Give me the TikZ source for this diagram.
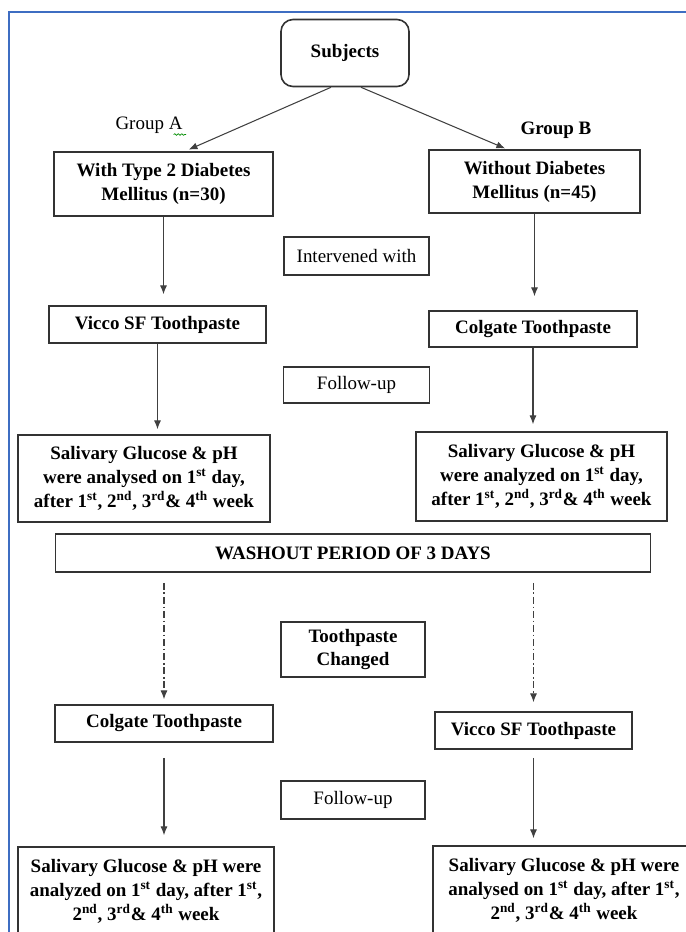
\documentclass[tikz,border=0pt]{standalone}
\usepackage{fontspec}
\setmainfont{Liberation Serif}
\usepackage{xcolor}
\usepackage{tikz}
\usetikzlibrary{arrows.meta,decorations.pathmorphing}
\definecolor{frameblue}{HTML}{3E6DC2}

\begin{document}
\begin{tikzpicture}[
    box/.style={draw=black!80, rectangle, line width=0.9pt, inner xsep=2pt, inner ysep=2pt, align=flush center, font=\fontsize{10.8}{13.6}\selectfont\bfseries},
    plainbox/.style={box, font=\fontsize{10.8}{13.6}\selectfont},
    conn/.style={draw=black!75, line width=0.6pt, -{Latex[length=5pt,width=4pt]}, shorten >=0.14cm},
    dashconn/.style={conn, dash pattern=on 4pt off 1.5pt on 1pt off 1.5pt}
]
                \useasboundingbox (0,0) rectangle (13.72,-18.64);
                \clip (0,0) rectangle (13.72,-18.64);
                \draw[frameblue, line width=1pt] (0.18,-0.24) rectangle (14.2,-19.2);
                \node[box, rounded corners=0.24cm, text width=2.42cm, minimum height=1.34cm] (sub) at (6.90,-1.06) {Subjects};
                \node[box, text width=4.24cm, minimum height=1.28cm, below of=sub, xshift=-3.63cm, yshift=-1.62cm] (a1) {With Type 2 Diabetes\\ Mellitus (n=30)};
                \node[box, text width=4.08cm, minimum height=1.26cm, right of=a1, xshift=6.42cm, yshift=0.05cm] (b1) {Without Diabetes\\ Mellitus (n=45)};
                \node[font=\fontsize{10.8}{13.6}\selectfont, above of=a1, xshift=-0.29cm, yshift=0.18cm] (gA) {Group A};
                \node[font=\fontsize{10.8}{13.6}\selectfont\bfseries, above of=b1, xshift=0.43cm, yshift=0.03cm] (gB) {Group B};
                \node[plainbox, text width=2.76cm, minimum height=0.76cm, below of=sub, xshift=0.23cm, yshift=-3.06cm] (iw) {Intervened with};
                \node[box, text width=4.20cm, minimum height=0.74cm, below of=a1, xshift=-0.12cm, yshift=-1.81cm] (a2) {Vicco SF Toothpaste};
                \node[box, text width=4.02cm, minimum height=0.72cm, below of=b1, xshift=-0.03cm, yshift=-1.95cm] (b2) {Colgate Toothpaste};
                \node[plainbox, text width=2.78cm, minimum height=0.72cm, below of=iw, yshift=-1.58cm] (fu1) {Follow-up};
                \node[box, text width=4.90cm, minimum height=1.74cm, below of=a2, xshift=-0.27cm, yshift=-2.08cm] (a3) {Salivary Glucose \& pH\\ were analysed on 1\textsuperscript{st} day,\\ after 1\textsuperscript{st}, 2\textsuperscript{nd}, 3\textsuperscript{rd}\& 4\textsuperscript{th} week};
                \node[box, text width=4.88cm, minimum height=1.78cm, below of=b2, xshift=0.17cm, yshift=-1.95cm] (b3) {Salivary Glucose \& pH\\ were analyzed on 1\textsuperscript{st} day,\\ after 1\textsuperscript{st}, 2\textsuperscript{nd}, 3\textsuperscript{rd}\& 4\textsuperscript{th} week};
                \node[box, text width=11.76cm, minimum height=0.76cm, below of=fu1, xshift=-0.07cm, yshift=-2.36cm] (wo) {WASHOUT PERIOD OF 3 DAYS};
                \node[box, text width=2.74cm, minimum height=1.10cm, below of=wo, yshift=-0.93cm] (tc) {Toothpaste\\ Changed};
                \node[box, text width=4.22cm, minimum height=0.74cm, below of=a3, xshift=0.40cm, yshift=-3.90cm] (a4) {Colgate Toothpaste};
                \node[box, text width=3.80cm, minimum height=0.74cm, below of=b3, xshift=-0.16cm, yshift=-4.08cm] (b4) {Vicco SF Toothpaste};
                \node[plainbox, text width=2.74cm, minimum height=0.76cm, below of=tc, yshift=-2.01cm] (fu2) {Follow-up};
                \node[box, text width=4.98cm, minimum height=1.76cm, below of=a4, xshift=-0.36cm, yshift=-2.35cm] (a5) {Salivary Glucose \& pH were\\ analyzed on 1\textsuperscript{st} day, after 1\textsuperscript{st},\\ 2\textsuperscript{nd}, 3\textsuperscript{rd}\& 4\textsuperscript{th} week};
                \node[box, text width=5.10cm, minimum height=1.76cm, below of=b4, xshift=0.61cm, yshift=-2.19cm] (b5) {Salivary Glucose \& pH were\\ analysed on 1\textsuperscript{st} day, after 1\textsuperscript{st},\\ 2\textsuperscript{nd}, 3\textsuperscript{rd}\& 4\textsuperscript{th} week};
                % spell-check mark under the A
                \draw[green!55!black, line width=0.4pt, decorate, decoration={snake, amplitude=0.45pt, segment length=2pt}] ([xshift=-0.30cm, yshift=0.10cm]gA.south east) -- ([xshift=-0.05cm, yshift=0.10cm]gA.south east);
                \draw[conn, shorten >=0.08cm]([xshift=-0.28cm]sub.south) -- ([xshift=0.43cm]a1.north);
                \draw[conn, shorten >=0.04cm]([xshift=0.32cm]sub.south) -- ([xshift=-0.55cm]b1.north);
                \draw[conn, shorten >=0.22cm](a1.south) -- (a1.south |- a2.north);
                \draw[conn, shorten >=0.28cm](b1.south) -- (b1.south |- b2.north);
                \draw[conn, shorten >=0.10cm](a2.south) -- (a2.south |- a3.north);
                \draw[conn](b2.south) -- (b2.south |- b3.north);
                \draw[dashconn, shorten <=0.20cm, shorten >=0.10cm](a4.north |- wo.south) -- (a4.north);
                \draw[dashconn, shorten <=0.20cm, shorten >=0.18cm](b4.north |- wo.south) -- (b4.north);
                \draw[conn, shorten <=0.30cm, shorten >=0.22cm](a4.south) -- (a4.south |- a5.north);
                \draw[conn, shorten <=0.16cm](b4.south) -- (b4.south |- b5.north);
            \end{tikzpicture}
\end{document}
